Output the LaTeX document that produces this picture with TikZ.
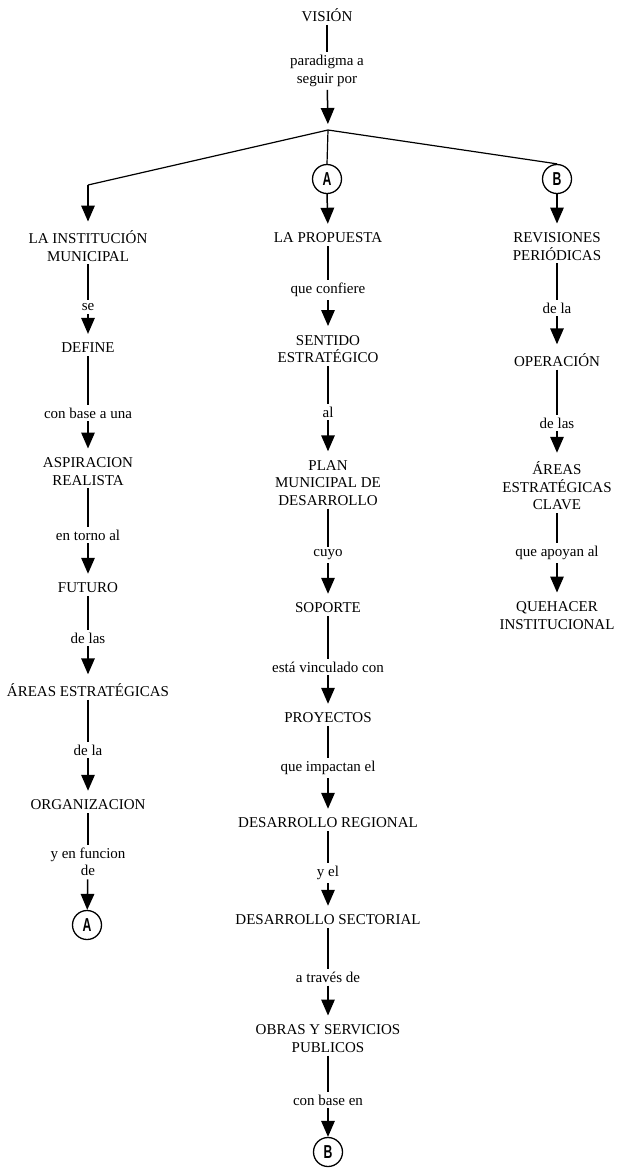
\documentclass[tikz,border=0pt]{standalone}
\usepackage{fontspec}
\usepackage{graphicx}
\setmainfont{Liberation Serif}
\setsansfont{Liberation Sans}
\usetikzlibrary{arrows.meta}
\newcommand{\jointletter}[1]{\scalebox{0.72}[1.1]{#1}}
\begin{document}
\begin{tikzpicture}[x=1pt,y=-1pt,
  every node/.style={font=\fontsize{15}{17.5}\selectfont, align=center},
  concept/.style={inner xsep=2pt, inner ysep=3pt},
  link/.style={inner xsep=2pt, inner ysep=3pt},
  joint/.style={circle, draw, line width=1.3pt, minimum size=29pt, inner sep=0pt,
    font=\sffamily\bfseries\fontsize{17}{17}\selectfont},
  edge/.style={line width=1.5pt},
  flow/.style={line width=1.5pt, -{Triangle[length=16pt,width=13.5pt]}, shorten >=6pt},
  spoke/.style={line width=1.2pt}]
\useasboundingbox (0,0) rectangle (618,1176);

% top of the tree
\node[concept] (vision) at (327,15) {VISIÓN};
\node[link] (paradigma) at (327,71) {paradigma a\\seguir por};
\coordinate (fork) at (328,130);
\coordinate (elbow) at (88,185);
\node[joint] (ja) at (327,179) {\jointletter{A}};
\node[joint] (jb) at (557,179) {\jointletter{B}};

% left column
\node[concept] (inst) at (88,246) {LA INSTITUCIÓN\\MUNICIPAL};
\node[link] (se) at (88,307) {se};
\node[concept] (define) at (88,348) {DEFINE};
\node[link] (conbase) at (88,413) {con base a una};
\node[concept] (aspira) at (88,471.5) {ASPIRACION\\REALISTA};
\node[link] (entorno) at (88,535) {en torno al};
\node[concept] (futuro) at (88,588) {FUTURO};
\node[link] (delas) at (88,638) {de las};
\node[concept] (areas) at (88,690) {ÁREAS ESTRATÉGICAS};
\node[link] (dela) at (88,750) {de la};
\node[concept] (organiza) at (88,805) {ORGANIZACION};
\node[link] (funcion) at (88,862) {y en funcion\\de};
\node[joint] (jaend) at (87,925) {\jointletter{A}};

% middle column
\node[concept] (propuesta) at (328,238) {LA PROPUESTA};
\node[link] (confiere) at (328,290) {que confiere};
\node[concept] (sentido) at (328,349) {SENTIDO\\ESTRATÉGICO};
\node[link] (al) at (328,412) {al};
\node[concept] (plan) at (328,483) {PLAN\\MUNICIPAL DE\\DESARROLLO};
\node[link] (cuyo) at (328,555) {cuyo};
\node[concept] (soporte) at (328,608) {SOPORTE};
\node[link] (vinculado) at (328,667) {está vinculado con};
\node[concept] (proyectos) at (328,718) {PROYECTOS};
\node[link] (impactan) at (328,768) {que impactan el};
\node[concept] (regional) at (328,823) {DESARROLLO REGIONAL};
\node[link] (yel) at (328,873) {y el};
\node[concept] (sectorial) at (328,920) {DESARROLLO SECTORIAL};
\node[link] (traves) at (328,977) {a través de};
\node[concept] (obras) at (328,1038.5) {OBRAS Y SERVICIOS\\PUBLICOS};
\node[link] (conbaseen) at (328,1100) {con base en};
\node[joint] (jbend) at (328,1152) {\jointletter{B}};

% right column
\node[concept] (revision) at (557,246.5) {REVISIONES\\PERIÓDICAS};
\node[link] (dela2) at (557,308) {de la};
\node[concept] (operacion) at (557,360) {OPERACIÓN};
\node[link] (delas2) at (557,423) {de las};
\node[concept] (clave) at (557,486) {ÁREAS\\ESTRATÉGICAS\\CLAVE};
\node[link] (apoyan) at (557,553) {que apoyan al};
\node[concept] (quehacer) at (557,615.5) {QUEHACER\\INSTITUCIONAL};

% branching
\draw[edge] (vision) -- (paradigma);
\draw[flow] (paradigma) -- (fork);
\draw[spoke] (fork) -- (elbow);
\draw[spoke] (fork) -- (ja.north);
\draw[spoke] (fork) -- (jb.north);
\draw[flow] (elbow) -- (inst.north);
\draw[flow] (ja.south) -- (propuesta.north);
\draw[flow] (jb.south) -- (revision.north);

% left chain
\draw[edge] (inst) -- (se);
\draw[flow] (se) -- (define);
\draw[edge] (define) -- (conbase);
\draw[flow] (conbase) -- (aspira);
\draw[edge] (aspira) -- (entorno);
\draw[flow] (entorno) -- (futuro);
\draw[edge] (futuro) -- (delas);
\draw[flow] (delas) -- (areas);
\draw[edge] (areas) -- (dela);
\draw[flow] (dela) -- (organiza);
\draw[edge] (organiza) -- (funcion);
\draw[flow, shorten >=0pt] (funcion) -- (jaend);

% middle chain
\draw[edge] (propuesta) -- (confiere);
\draw[flow] (confiere) -- (sentido);
\draw[edge] (sentido) -- (al);
\draw[flow] (al) -- (plan);
\draw[edge] (plan) -- (cuyo);
\draw[flow] (cuyo) -- (soporte);
\draw[edge] (soporte) -- (vinculado);
\draw[flow] (vinculado) -- (proyectos);
\draw[edge] (proyectos) -- (impactan);
\draw[flow] (impactan) -- (regional);
\draw[edge] (regional) -- (yel);
\draw[flow] (yel) -- (sectorial);
\draw[edge] (sectorial) -- (traves);
\draw[flow] (traves) -- (obras);
\draw[edge] (obras) -- (conbaseen);
\draw[flow, shorten >=0pt] (conbaseen) -- (jbend);

% right chain
\draw[edge] (revision) -- (dela2);
\draw[flow] (dela2) -- (operacion);
\draw[edge] (operacion) -- (delas2);
\draw[flow] (delas2) -- (clave);
\draw[edge] (clave) -- (apoyan);
\draw[flow] (apoyan) -- (quehacer);
\end{tikzpicture}
\end{document}
